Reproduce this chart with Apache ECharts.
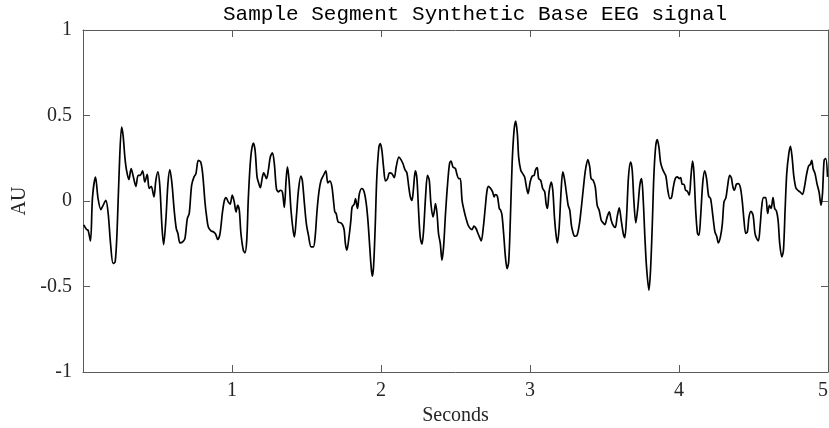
<!DOCTYPE html>
<html>
<head>
<meta charset="utf-8">
<script src="https://cdn.jsdelivr.net/npm/echarts@6/dist/echarts.min.js"></script>
<style>
html,body{margin:0;padding:0;background:#fff;}
#chart{width:829px;height:428px;}
</style>
</head>
<body>
<div id="chart"></div>
<script>
const chartTitle = 'Sample Segment Synthetic Base EEG signal';
const xAxisName = 'Seconds';
const yAxisName = 'AU';
const xTicks = [1, 2, 3, 4, 5];
const yTicks = [-1, -0.5, 0, 0.5, 1];

const seconds = [
0.005,0.024,0.034,0.050,0.064,0.084,0.101,0.120,0.135,0.153,0.169,0.185,0.202,0.216,0.229,0.243,0.259,0.269,0.281,0.292,
0.308,0.323,0.337,0.355,0.370,0.384,0.400,0.415,0.431,0.444,0.458,0.476,0.489,0.503,0.516,0.530,0.541,0.556,0.570,0.583,
0.597,0.612,0.626,0.637,0.651,0.669,0.684,0.700,0.713,0.729,0.745,0.758,0.774,0.790,0.803,0.819,0.830,0.841,0.859,0.874,
0.890,0.904,0.919,0.935,0.948,0.960,0.975,0.987,1.002,1.015,1.027,1.038,1.049,1.060,1.076,1.087,1.099,1.110,1.126,1.143,
1.155,1.168,1.177,1.190,1.204,1.213,1.231,1.244,1.257,1.271,1.284,1.298,1.311,1.325,1.338,1.351,1.363,1.372,1.383,1.396,
1.410,1.419,1.432,1.446,1.462,1.472,1.486,1.499,1.513,1.531,1.546,1.558,1.571,1.585,1.598,1.614,1.630,1.643,1.657,1.670,
1.681,1.690,1.699,1.712,1.731,1.744,1.753,1.761,1.771,1.784,1.798,1.806,1.820,1.829,1.842,1.855,1.872,1.887,1.901,1.912,
1.923,1.932,1.941,1.950,1.961,1.972,1.986,1.995,2.006,2.017,2.030,2.044,2.057,2.073,2.089,2.102,2.120,2.134,2.147,2.161,
2.174,2.185,2.196,2.208,2.218,2.230,2.241,2.252,2.263,2.275,2.286,2.299,2.312,2.324,2.335,2.349,2.357,2.366,2.376,2.386,
2.398,2.409,2.420,2.433,2.447,2.460,2.470,2.483,2.499,2.510,2.521,2.532,2.544,2.557,2.571,2.585,2.599,2.611,2.624,2.638,
2.651,2.665,2.673,2.687,2.700,2.712,2.722,2.736,2.749,2.759,2.767,2.781,2.794,2.803,2.812,2.823,2.835,2.846,2.857,2.868,
2.880,2.893,2.904,2.915,2.924,2.938,2.951,2.964,2.976,2.987,3.001,3.014,3.028,3.036,3.048,3.058,3.072,3.085,3.099,3.108,
3.117,3.128,3.142,3.153,3.164,3.175,3.184,3.196,3.209,3.220,3.231,3.245,3.256,3.267,3.278,3.289,3.300,3.316,3.332,3.345,
3.359,3.372,3.388,3.401,3.410,3.424,3.438,3.451,3.464,3.478,3.491,3.502,3.518,3.532,3.545,3.558,3.572,3.585,3.599,3.612,
3.626,3.636,3.648,3.661,3.675,3.686,3.697,3.710,3.724,3.737,3.749,3.760,3.771,3.782,3.798,3.809,3.821,3.831,3.843,3.854,
3.865,3.876,3.888,3.898,3.912,3.925,3.939,3.950,3.962,3.975,3.989,4.002,4.011,4.022,4.033,4.044,4.056,4.069,4.080,4.091,
4.100,4.112,4.124,4.134,4.145,4.159,4.172,4.185,4.199,4.212,4.228,4.241,4.253,4.264,4.278,4.291,4.302,4.315,4.327,4.340,
4.351,4.362,4.372,4.385,4.398,4.412,4.425,4.436,4.448,4.459,4.470,4.483,4.497,4.510,4.521,4.533,4.544,4.555,4.567,4.582,
4.595,4.607,4.618,4.631,4.642,4.654,4.665,4.676,4.690,4.701,4.712,4.723,4.737,4.748,4.759,4.770,4.784,4.797,4.812,4.829,
4.842,4.855,4.869,4.882,4.891,4.900,4.913,4.926,4.940,4.953,4.963,4.974,4.985,4.997
];

const amplitude = [
-0.140,-0.167,-0.171,-0.233,0.024,0.140,0.014,-0.050,-0.025,0.004,-0.073,-0.250,-0.365,-0.356,-0.170,0.180,0.432,0.384,0.257,0.180,
0.125,0.190,0.145,0.086,0.150,0.150,0.176,0.111,0.156,0.073,0.086,0.024,0.121,0.170,0.082,-0.152,-0.255,-0.112,0.102,0.183,
0.102,-0.054,-0.161,-0.190,-0.245,-0.239,-0.220,-0.103,-0.073,0.092,0.141,0.160,0.238,0.228,0.160,-0.010,-0.093,-0.152,-0.175,-0.180,
-0.194,-0.225,-0.194,-0.073,0.000,0.020,-0.005,-0.019,0.034,-0.005,-0.064,-0.025,-0.054,-0.190,-0.288,-0.303,-0.229,0.024,0.257,0.339,
0.296,0.141,0.111,0.078,0.141,0.164,0.131,0.180,0.257,0.281,0.219,0.073,0.053,0.063,0.053,-0.038,0.121,0.199,0.121,-0.054,
-0.171,-0.210,-0.093,0.063,0.146,0.121,-0.015,-0.132,-0.200,-0.268,-0.268,-0.210,-0.054,0.063,0.121,0.150,0.176,0.106,0.117,0.087,
0.004,-0.064,-0.073,-0.122,-0.128,-0.142,-0.171,-0.249,-0.288,-0.219,-0.112,-0.035,-0.019,0.014,-0.044,0.043,0.073,0.053,-0.015,-0.112,
-0.249,-0.365,-0.440,-0.385,-0.152,0.141,0.316,0.335,0.296,0.199,0.117,0.131,0.164,0.160,0.137,0.199,0.257,0.242,0.219,0.183,
0.164,0.092,0.028,0.004,0.073,0.176,0.131,-0.054,-0.210,-0.253,-0.171,0.024,0.150,0.121,-0.015,-0.093,-0.064,-0.015,-0.073,-0.190,
-0.249,-0.346,-0.268,-0.073,0.102,0.219,0.234,0.199,0.190,0.155,0.131,0.131,0.004,-0.054,-0.103,-0.142,-0.161,-0.167,-0.147,-0.161,
-0.190,-0.219,-0.233,-0.152,-0.035,0.063,0.086,0.073,0.053,0.024,0.038,0.028,-0.044,-0.054,-0.083,-0.190,-0.327,-0.395,-0.356,-0.112,
0.219,0.413,0.467,0.394,0.257,0.180,0.160,0.141,0.082,0.043,0.111,0.145,0.150,0.180,0.195,0.131,0.121,0.073,0.053,-0.015,
-0.044,0.053,0.111,0.063,-0.093,-0.200,-0.245,-0.152,0.063,0.170,0.131,0.043,-0.025,-0.054,-0.142,-0.186,-0.206,-0.200,-0.132,-0.035,
0.082,0.180,0.242,0.199,0.131,0.121,0.082,-0.025,-0.054,-0.112,-0.128,-0.138,-0.093,-0.064,-0.112,-0.142,-0.155,-0.093,-0.040,-0.112,
-0.190,-0.214,-0.093,0.141,0.228,0.180,0.004,-0.128,-0.035,0.092,0.131,0.004,-0.210,-0.385,-0.521,-0.404,-0.132,0.141,0.316,0.359,
0.316,0.228,0.190,0.170,0.145,0.063,0.014,0.020,0.082,0.131,0.141,0.131,0.137,0.098,0.098,0.063,0.057,0.034,0.141,0.234,
0.170,-0.054,-0.190,-0.200,-0.093,0.102,0.176,0.131,0.028,0.014,-0.093,-0.180,-0.206,-0.245,-0.210,-0.132,-0.005,0.020,0.092,0.150,
0.137,0.082,0.063,0.098,0.102,0.078,-0.005,-0.112,-0.190,-0.180,-0.093,-0.060,-0.083,-0.190,-0.219,-0.233,-0.152,-0.035,0.020,0.020,
-0.073,-0.025,-0.044,0.020,-0.044,-0.058,-0.112,-0.249,-0.327,-0.288,-0.054,0.160,0.277,0.320,0.257,0.150,0.078,0.063,0.053,0.039,
0.082,0.150,0.203,0.215,0.238,0.190,0.160,0.102,0.053,-0.025,0.043,0.238,0.248,0.141
];

const lineData = seconds.map((t, i) => [t, amplitude[i]]);

const axisColor = '#5a5a5a';
const labelFont = { fontFamily: '"Liberation Serif", "Times New Roman", serif', fontSize: 20, color: '#262626' };

const chart = echarts.init(document.getElementById('chart'), null, { renderer: 'canvas' });
chart.setOption({
  animation: false,
  backgroundColor: '#fff',
  grid: { left: 83, right: 1, top: 30, bottom: 56, show: false, containLabel: false, outerBoundsMode: 'none' },
  graphic: [{
    type: 'text',
    left: 475 - 252,
    top: 4,
    style: {
      text: chartTitle,
      font: '21px "Liberation Mono", "Courier New", monospace',
      fill: '#000'
    }
  }],
  xAxis: [{
    type: 'value', min: 0, max: 5, interval: 1,
    name: xAxisName, nameLocation: 'middle', nameGap: 34,
    nameTextStyle: labelFont,
    axisLine: { show: true, onZero: false, lineStyle: { color: axisColor, width: 1 } },
    axisTick: { show: true, inside: true, length: 7, lineStyle: { color: axisColor } },
    axisLabel: Object.assign({ margin: 9, alignMaxLabel: 'right', formatter: v => (xTicks.indexOf(v) >= 0 ? String(v) : '') }, labelFont),
    splitLine: { show: false }
  }, {
    type: 'value', min: 0, max: 5, interval: 1, position: 'top',
    axisLine: { show: true, onZero: false, lineStyle: { color: axisColor, width: 1 } },
    axisTick: { show: true, inside: true, length: 7, lineStyle: { color: axisColor } },
    axisLabel: { show: false },
    splitLine: { show: false }
  }],
  yAxis: [{
    type: 'value', min: -1, max: 1, interval: 0.5,
    name: yAxisName, nameLocation: 'middle', nameGap: 50, nameRotate: 90,
    nameTextStyle: labelFont,
    axisLine: { show: true, onZero: false, lineStyle: { color: axisColor, width: 1 } },
    axisTick: { show: true, inside: true, length: 7, lineStyle: { color: axisColor } },
    axisLabel: Object.assign({ margin: 11, formatter: v => (yTicks.indexOf(v) >= 0 ? String(v) : '') }, labelFont),
    splitLine: { show: false }
  }, {
    type: 'value', min: -1, max: 1, interval: 0.5, position: 'right',
    axisLine: { show: true, onZero: false, lineStyle: { color: axisColor, width: 1 } },
    axisTick: { show: true, inside: true, length: 7, lineStyle: { color: axisColor } },
    axisLabel: { show: false },
    splitLine: { show: false }
  }],
  series: [{
    type: 'line',
    data: lineData,
    xAxisIndex: 0,
    yAxisIndex: 0,
    showSymbol: false,
    symbol: 'none',
    smooth: 0.3,
    lineStyle: { color: '#000', width: 1.7 },
    clip: true
  }]
});
</script>
</body>
</html>
